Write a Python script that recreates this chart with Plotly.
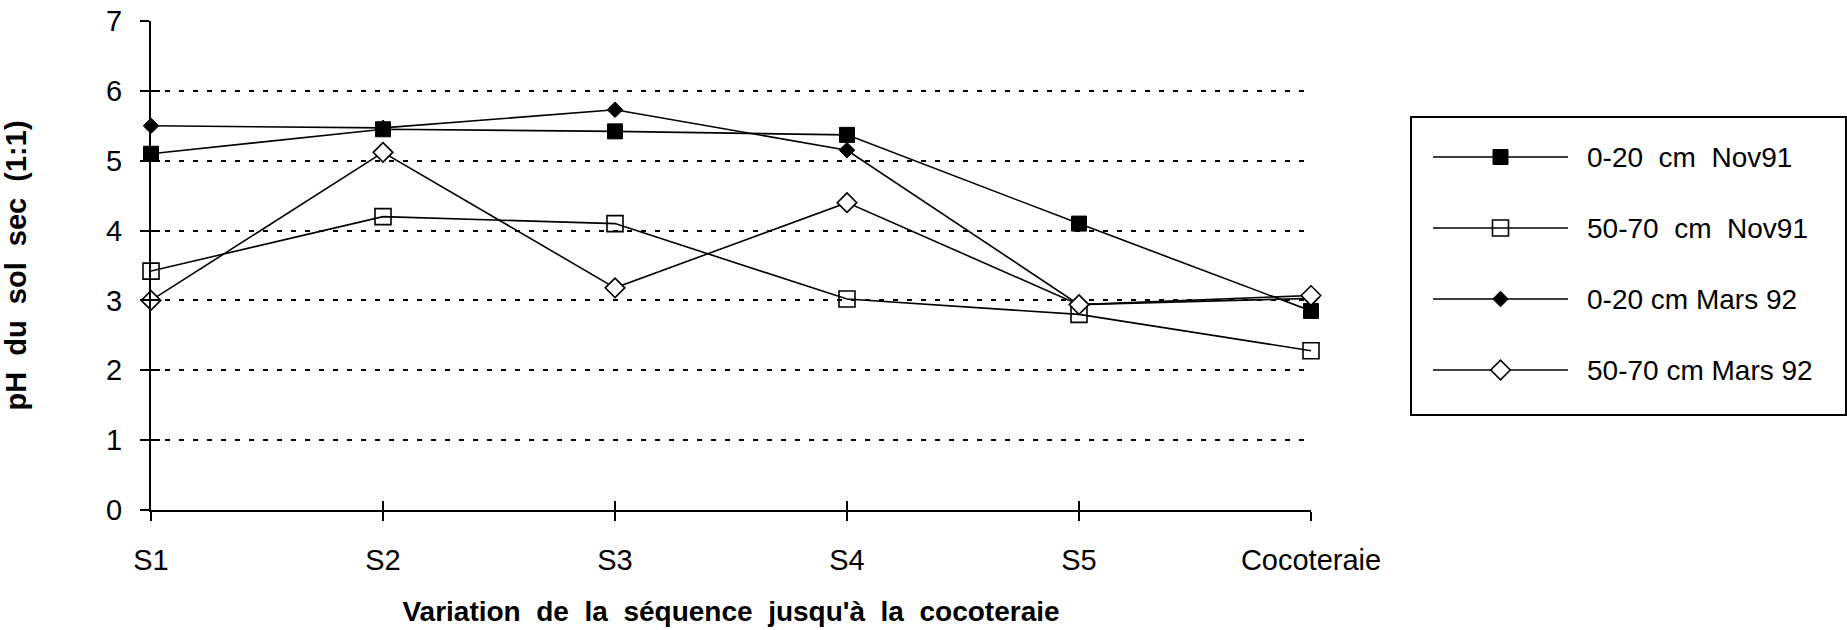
import plotly.graph_objects as go

# ---------------- data ----------------
categories = ["S1", "S2", "S3", "S4", "S5", "Cocoteraie"]
series_names = ["0-20  cm  Nov91", "50-70  cm  Nov91", "0-20 cm Mars 92", "50-70 cm Mars 92"]
ph_0_20_nov91 = [5.10, 5.45, 5.42, 5.37, 4.10, 2.85]
ph_50_70_nov91 = [3.42, 4.20, 4.10, 3.02, 2.80, 2.28]
ph_0_20_mars92 = [5.50, 5.47, 5.73, 5.15, 2.94, 3.03]
ph_50_70_mars92 = [3.00, 5.12, 3.18, 4.40, 2.94, 3.07]
y_ticks = [0, 1, 2, 3, 4, 5, 6, 7]

series_values = [ph_0_20_nov91, ph_50_70_nov91, ph_0_20_mars92, ph_50_70_mars92]

# ---------------- styles ----------------
FONT = "Liberation Sans, Arial, Helvetica, sans-serif"
W, H = 1847, 630
L, R, T, B = 151, 1, 21, 120
PW = W - L - R
PH = H - T - B
plot_right = 1311

marker_styles = [
    dict(symbol="square", size=15, color="black", line=dict(color="black", width=1)),
    dict(symbol="square-open", size=16, color="black", line=dict(color="black", width=1.6)),
    dict(symbol="diamond", size=12, color="black", line=dict(color="black", width=1)),
    dict(symbol="diamond", size=15, color="white", line=dict(color="black", width=1.6)),
]

def px_x(p):
    return (p - L) / PW

def px_y(p):
    return (H - B - p) / PH

fig = go.Figure()

xs = list(range(len(categories)))
for name, vals, ms in zip(series_names, series_values, marker_styles):
    fig.add_trace(go.Scatter(
        x=xs, y=vals, mode="lines+markers", name=name,
        line=dict(color="black", width=1.6),
        marker=ms, cliponaxis=False, showlegend=False,
    ))

# ---------------- custom legend ----------------
legend_rows = [157, 228, 299, 370]
for name, ms, ry in zip(series_names, marker_styles, legend_rows):
    fig.add_trace(go.Scatter(
        x=[0, 0.5, 1], y=[ry, ry, ry], mode="lines", xaxis="x2", yaxis="y2",
        line=dict(color="black", width=1.6), showlegend=False, hoverinfo="skip",
    ))
    fig.add_trace(go.Scatter(
        x=[0.5], y=[ry], mode="markers", xaxis="x2", yaxis="y2",
        marker=ms, showlegend=False, hoverinfo="skip", cliponaxis=False,
    ))
    fig.add_annotation(
        x=px_x(1585), y=ry, xref="paper", yref="y2", text=name.replace("  ", "&nbsp; "),
        showarrow=False, xanchor="left", yanchor="middle",
        font=dict(family=FONT, size=28, color="black"),
    )

fig.add_shape(type="rect", xref="paper", yref="paper",
              x0=px_x(1411), x1=px_x(1846), y0=px_y(415), y1=px_y(117),
              line=dict(color="black", width=2), fillcolor="rgba(0,0,0,0)")

# invisible trace so the overlay tick axes are drawn
fig.add_trace(go.Scatter(x=[0], y=[0], xaxis="x3", yaxis="y3", mode="markers",
                         marker=dict(opacity=0), showlegend=False, hoverinfo="skip"))

dom_main = [0, px_x(plot_right)]

fig.update_layout(
    width=W, height=H,
    margin=dict(l=L, r=R, t=T, b=B, autoexpand=False),
    paper_bgcolor="white", plot_bgcolor="white",
    font=dict(family=FONT, size=29, color="black"),
    xaxis=dict(
        domain=dom_main, range=[0, len(categories) - 1], tickvals=xs, ticktext=categories,
        showgrid=False, zeroline=False, showline=True, linecolor="black", linewidth=2,
        ticks="outside", ticklen=9, tickwidth=2, tickcolor="black",
        ticklabelstandoff=14, automargin=False,
        title=dict(text="<b>Variation&nbsp; de&nbsp; la&nbsp; séquence&nbsp; jusqu'à&nbsp; la&nbsp; cocoteraie</b>",
                   font=dict(size=28), standoff=27),
    ),
    yaxis=dict(
        range=[0, 7], tickvals=y_ticks, showgrid=True, gridcolor="black", gridwidth=2,
        griddash="5px,9px", zeroline=False, showline=True, linecolor="black", linewidth=2,
        ticks="outside", ticklen=9, tickwidth=2, tickcolor="black",
        ticklabelstandoff=12, automargin=False,
        title=dict(text="<b>pH&nbsp; du&nbsp; sol&nbsp; sec&nbsp; (1:1)</b>", font=dict(size=29), standoff=71),
    ),
    xaxis3=dict(overlaying="x", anchor="y", range=[0, len(categories) - 1], tickvals=xs,
                showticklabels=False, showgrid=False, zeroline=False, showline=False,
                ticks="inside", ticklen=9, tickwidth=2, tickcolor="black"),
    yaxis3=dict(overlaying="y", anchor="x", range=[0, 7], tickvals=y_ticks,
                showticklabels=False, showgrid=False, zeroline=False, showline=False,
                ticks="inside", ticklen=9, tickwidth=2, tickcolor="black"),
    xaxis2=dict(domain=[px_x(1433), px_x(1568)], range=[0, 1], visible=False, anchor="y2"),
    yaxis2=dict(domain=[0, 1], range=[H - B, T], visible=False, anchor="x2"),
)

fig.write_html("out.html")
